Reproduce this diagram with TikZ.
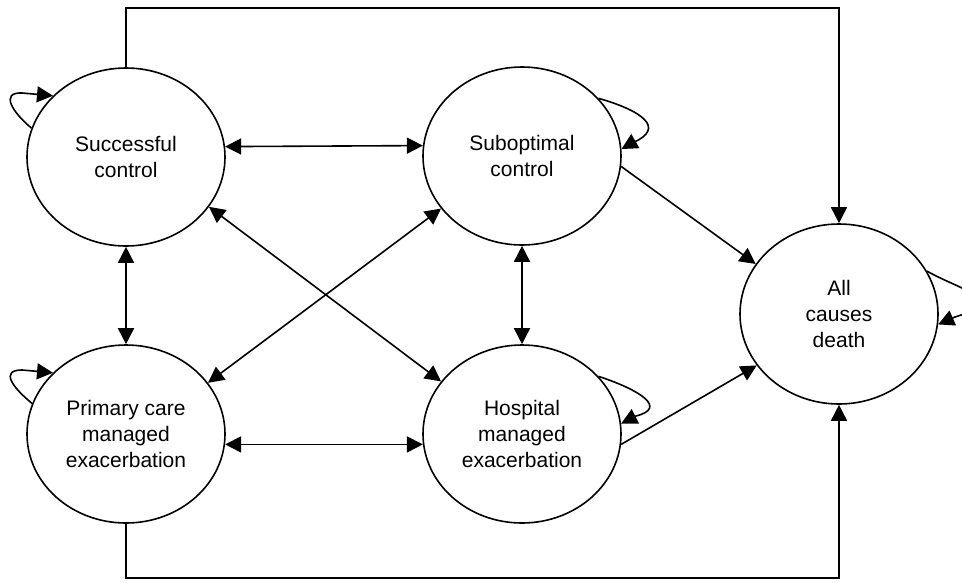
\documentclass[tikz,border=0pt]{standalone}
\usepackage{fontspec}
\setmainfont{Liberation Sans}
\usetikzlibrary{arrows.meta,shapes.geometric}
\tikzset{
  state/.style={draw, line width=1.6pt, ellipse, minimum width=198pt, minimum height=178pt,
    inner sep=0pt, align=center, font=\fontsize{21}{26}\selectfont},
  conn/.style={line width=1.6pt, -{Triangle[length=16pt,width=16pt]}},
  biconn/.style={line width=1.6pt, {Triangle[length=16pt,width=16pt]}-{Triangle[length=16pt,width=16pt]}},
}
\begin{document}
\begin{tikzpicture}[x=1pt,y=-1pt]
\clip (0,0) rectangle (962,582);
\fill[white] (0,0) rectangle (962,582);
\node[state] (sc) at (126,157) {Successful\\control};
\node[state] (subc) at (522,156) {Suboptimal\\control};
\node[state] (pc) at (126,434) {Primary care\\managed\\exacerbation};
\node[state] (hosp) at (522,434) {Hospital\\managed\\exacerbation};
\node[state, minimum height=180pt] (death) at (839,314) {All\\causes\\death};
\coordinate (topc) at (480,8);
\coordinate (botc) at (480,578);
% bidirectional
\draw[biconn] (sc.6) -- (subc.174);
\draw[biconn] (pc.-6) -- (hosp.186);
\draw[biconn] (sc.south) -- (pc.north);
\draw[biconn] (subc.south) -- (hosp.north);
\draw[biconn] (sc.-31) -- (hosp.147);
\draw[biconn] (pc.32) -- (subc.213);
% to death
\draw[conn] (subc.-6) -- (death.149);
\draw[conn] (hosp.-6) -- (death.212);
\draw[conn] (sc.north) |- (topc) -| (death.north);
\draw[conn] (pc.south) |- (botc) -| (death.south);
% self loops
\draw[conn] (sc.163) .. controls (12,112) and (0,92) .. (22,93) -- (sc.140);
\draw[conn] (pc.162) .. controls (12,387) and (0,370) .. (22,370) -- (pc.140);
\draw[conn] (subc.37) .. controls (640,110) and (668,128) .. (632,143) -- (subc.4);
\draw[conn] (hosp.37) .. controls (640,390) and (668,408) .. (636,416) -- (hosp.6);
\draw[conn] (death.26) .. controls (960,290) and (1010,300) .. (955,317) -- (death.-6);
\end{tikzpicture}
\end{document}
